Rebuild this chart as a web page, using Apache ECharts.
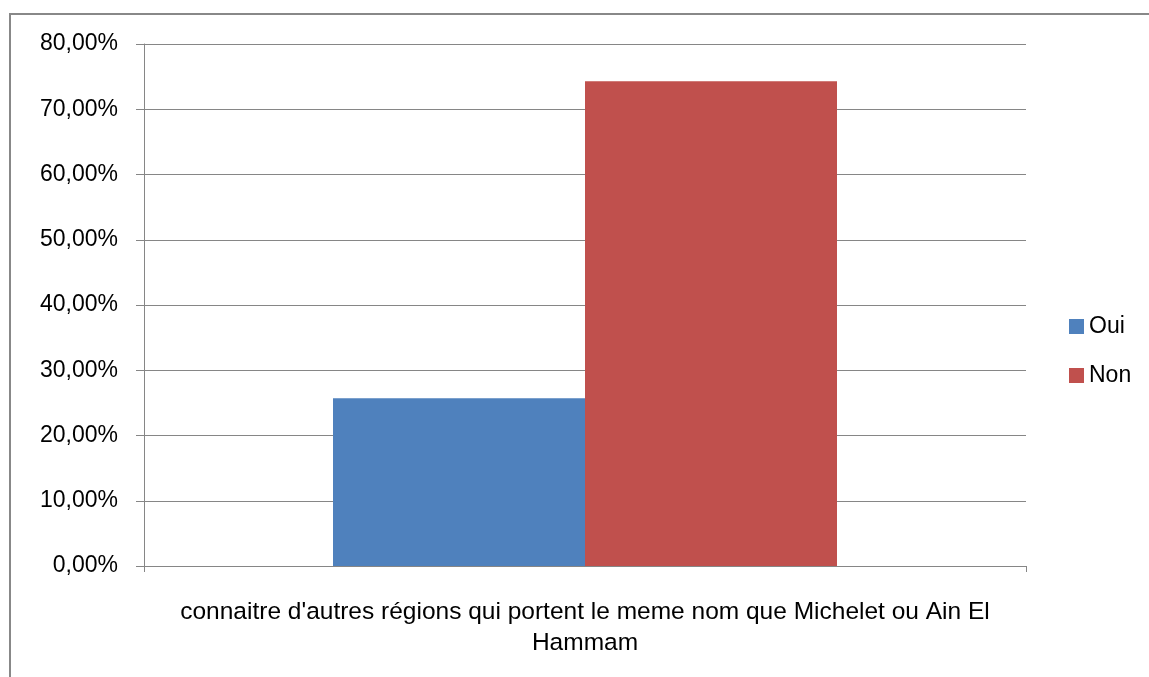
<!DOCTYPE html>
<html><head><meta charset="utf-8">
<script src="https://cdn.jsdelivr.net/npm/echarts@6/dist/echarts.min.js"></script>
<style>html,body{margin:0;padding:0;background:#fff}#c{width:1149px;height:677px}
#frame{position:absolute;left:9px;top:13px;width:1160px;height:700px;border:2px solid #888;box-sizing:border-box;pointer-events:none}</style>
</head><body><div id="c"></div><div id="frame"></div>
<script>
const categories = ["connaitre d'autres régions qui portent le meme nom que Michelet ou Ain El\nHammam"];
const seriesNames = ["Oui", "Non"];
const ouiValues = [25.71];
const nonValues = [74.29];
const colors = ["#4F81BD", "#C0504D"];
const font = "Liberation Sans, sans-serif";
const chart = echarts.init(document.getElementById('c'));
chart.setOption({
  animation: false,
  textStyle: {fontFamily: font},
  grid: {left: 144, right: 123, top: 44, bottom: 111},
  legend: {
    orient: 'vertical', left: 1064, top: 310, itemWidth: 15, itemHeight: 15, itemGap: 26, itemStyle: {borderWidth: 0},
    icon: 'rect', textStyle: {fontSize: 23, color: '#000', fontFamily: font},
    data: seriesNames
  },
  xAxis: {
    type: 'category', data: categories,
    axisLine: {lineStyle: {color: '#868686', width: 1}},
    axisTick: {show: true, alignWithLabel: false, length: 6, lineStyle: {color: '#868686'}},
    axisLabel: {fontSize: 24.5, color: '#000', margin: 31, lineHeight: 31, fontFamily: font}
  },
  yAxis: {
    type: 'value', min: 0, max: 80, interval: 10,
    axisLine: {show: true, lineStyle: {color: '#868686'}},
    axisTick: {show: true, length: 8, lineStyle: {color: '#868686'}},
    splitLine: {lineStyle: {color: '#868686', width: 1}},
    axisLabel: {fontSize: 23, color: '#000', margin: 26, fontFamily: font,
      formatter: v => v.toFixed(2).replace('.', ',') + '%'}
  },
  series: [
    {name: seriesNames[0], type: 'bar', data: ouiValues, barWidth: 252, barGap: '0%', itemStyle: {color: colors[0]}},
    {name: seriesNames[1], type: 'bar', data: nonValues, barWidth: 252, barGap: '0%', itemStyle: {color: colors[1]}}
  ]
});
</script></body></html>
